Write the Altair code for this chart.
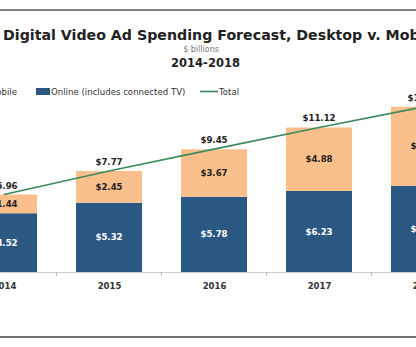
import altair as alt
import pandas as pd

# ---- data ----
years = [2014, 2015, 2016, 2017, 2018]
mobile = [1.44, 2.45, 3.67, 4.88, 6.09]
online = [4.52, 5.32, 5.78, 6.23, 6.62]
total = [5.96, 7.77, 9.45, 11.12, 12.71]

title_text = "Digital Video Ad Spending Forecast, Desktop v. Mobile"
unit_text = "$ billions"
period_text = "2014-2018"
legend_labels = ["Mobile", "Online (includes connected TV)", "Total"]

BLUE = "#2B5882"
ORANGE = "#FBBF8C"
GREEN = "#3A8A5E"
FONT = "DejaVu Sans"
LABEL_SIZE = 8.6

df = pd.DataFrame({"year": years, "mobile": mobile, "online": online, "total": total})

W, H = 416, 272
PX_PER_YEAR = 105
FIRST_CENTER = 4
PX_PER_UNIT = 13.0
# domain runs a little past the last year so the 2018 label is kept (clipped by the page edge)
x_lo = years[0] - FIRST_CENTER / PX_PER_YEAR
x_hi = years[-1] + 0.3
x_dom = [x_lo, x_hi]
x_rng = [0, (x_hi - x_lo) * PX_PER_YEAR]
y_dom = [0, H / PX_PER_UNIT]

xs = alt.Scale(domain=x_dom, range=x_rng, nice=False, zero=False, padding=0)
ys = alt.Scale(domain=y_dom, nice=False, zero=True, padding=0)

x_axis = alt.Axis(values=years, format="d", title=None, grid=False, ticks=False,
                  tickSize=0, domainColor="#cccccc", domainWidth=1,
                  labelFont=FONT, labelFontSize=8.5, labelFontWeight="bold",
                  labelColor="#333333",
                  labelPadding=9, labelFlush=False, labelOverlap=False,
                  labelBound=False)
x_enc = alt.X("year:Q", scale=xs, axis=x_axis)

base = alt.Chart(df)

online_bar = base.mark_bar(size=66, color=BLUE).encode(
    x=x_enc, y=alt.Y("online:Q", scale=ys, axis=None)
)
mobile_bar = base.transform_calculate(top="datum.online + datum.mobile").mark_bar(
    size=66, color=ORANGE
).encode(x=x_enc, y=alt.Y("top:Q", scale=ys, axis=None), y2=alt.Y2("online:Q"))

total_line = base.mark_line(color=GREEN, strokeWidth=1.6).encode(
    x=x_enc, y=alt.Y("total:Q", scale=ys, axis=None)
)

ticks = base.transform_calculate(b="datum.year + 0.5").mark_rule(
    color="#bbbbbb", strokeWidth=1
).encode(x=alt.X("b:Q", scale=xs, axis=x_axis), y=alt.value(H), y2=alt.value(H + 4))

online_lab = base.transform_calculate(
    mid="datum.online / 2", lab="'$' + format(datum.online, '.2f')"
).mark_text(font=FONT, fontSize=LABEL_SIZE, fontWeight="bold", color="white", baseline="middle").encode(
    x=x_enc, y=alt.Y("mid:Q", scale=ys, axis=None), text="lab:N"
)
mobile_lab = base.transform_calculate(
    mid="datum.online + datum.mobile / 2", lab="'$' + format(datum.mobile, '.2f')"
).mark_text(font=FONT, fontSize=LABEL_SIZE, fontWeight="bold", color="#222222", baseline="middle").encode(
    x=x_enc, y=alt.Y("mid:Q", scale=ys, axis=None), text="lab:N"
)
total_lab = base.transform_calculate(
    lab="'$' + format(datum.total, '.2f')"
).mark_text(font=FONT, fontSize=LABEL_SIZE, fontWeight="bold", color="#222222", baseline="alphabetic", dy=-6).encode(
    x=x_enc, y=alt.Y("total:Q", scale=ys, axis=None), text="lab:N"
)


def one(text):
    return alt.Chart(pd.DataFrame({"t": [text]}))


top_rule = one("").mark_rule(color="#555555", strokeWidth=1.5).encode(
    x=alt.value(0), x2=alt.value(W), y=alt.value(10)
)
bottom_rule = one("").mark_rule(color="#444444", strokeWidth=1.5).encode(
    x=alt.value(0), x2=alt.value(W), y=alt.value(337)
)

title = one(title_text).mark_text(
    font=FONT, fontSize=14.2, fontWeight="bold", color="#222222", align="left"
).encode(text="t:N", x=alt.value(3), y=alt.value(36))
unit = one(unit_text).mark_text(
    font=FONT, fontSize=8, color="#777777", align="center"
).encode(text="t:N", x=alt.value(201), y=alt.value(50))
period = one(period_text).mark_text(
    font=FONT, fontSize=11.5, fontWeight="bold", color="#222222", align="center"
).encode(text="t:N", x=alt.value(205.5), y=alt.value(64))

LEG_Y = 91.5
leg_mobile_sw = one("").mark_rect(color=ORANGE).encode(
    x=alt.value(-34), x2=alt.value(-20), y=alt.value(LEG_Y - 3.5), y2=alt.value(LEG_Y + 3.5)
)
leg_mobile = one(legend_labels[0]).mark_text(
    font=FONT, fontSize=8.6, color="#333333", align="right", baseline="middle"
).encode(text="t:N", x=alt.value(17), y=alt.value(LEG_Y))
leg_online_sw = one("").mark_rect(color=BLUE).encode(
    x=alt.value(36), x2=alt.value(50), y=alt.value(LEG_Y - 3.5), y2=alt.value(LEG_Y + 3.5)
)
leg_online = one(legend_labels[1]).mark_text(
    font=FONT, fontSize=8.6, color="#333333", align="left", baseline="middle"
).encode(text="t:N", x=alt.value(51), y=alt.value(LEG_Y))
leg_total_sw = one("").mark_rule(color=GREEN, strokeWidth=1.6).encode(
    x=alt.value(200), x2=alt.value(218), y=alt.value(LEG_Y)
)
leg_total = one(legend_labels[2]).mark_text(
    font=FONT, fontSize=8.6, color="#333333", align="left", baseline="middle"
).encode(text="t:N", x=alt.value(219), y=alt.value(LEG_Y))

chart = alt.layer(
    online_bar, mobile_bar, ticks, total_line, online_lab, mobile_lab, total_lab,
    top_rule, bottom_rule, title, unit, period,
    leg_mobile_sw, leg_mobile, leg_online_sw, leg_online, leg_total_sw, leg_total,
).properties(
    width=W, height=H,
    padding={"left": 0, "top": 0, "right": 0, "bottom": 75},
    autosize=alt.AutoSizeParams(type="none"),
    background="white",
).configure_view(stroke=None)

chart.save("out.html", embed_options={"renderer": "svg", "actions": False})
